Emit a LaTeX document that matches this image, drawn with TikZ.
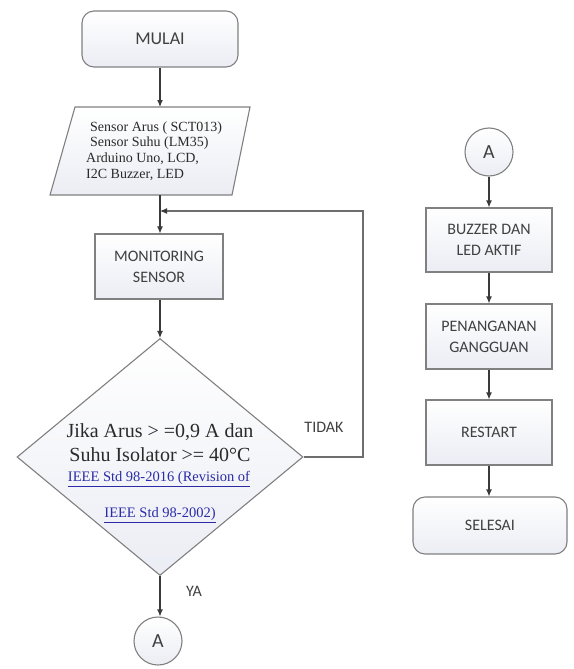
\documentclass[tikz,border=0pt]{standalone}
\usepackage{fontspec}
\setmainfont{Liberation Serif}
\setsansfont{Carlito}
\usetikzlibrary{shapes.geometric,arrows.meta,calc}
\definecolor{edge}{HTML}{808080}
\definecolor{arrowc}{HTML}{3A3A3A}
\definecolor{fbc}{HTML}{6E6E6E}
\definecolor{boxtop}{HTML}{FFFFFF}
\definecolor{boxbot}{HTML}{EBEDF4}
\definecolor{txt}{HTML}{404040}
\definecolor{dtc}{HTML}{2A2A2A}
\definecolor{linkc}{HTML}{2B2BA8}
\tikzset{
  shp/.style={draw=edge, line width=1.1pt, top color=boxtop, bottom color=boxbot},
  term/.style={shp, rectangle, rounded corners=12pt, font=\sffamily\fontsize{16}{21}\selectfont, text=txt, align=center},
  proc/.style={shp, rectangle, font=\sffamily\fontsize{16}{21}\selectfont, text=txt, align=center},
  conn/.style={shp, circle, minimum size=48pt, inner sep=0pt, font=\sffamily\fontsize{20}{22}\selectfont, text=txt},
  decision/.style={shp, diamond, inner sep=0pt},
  arr/.style={draw=arrowc, line width=1.1pt, -{Latex[length=7pt,width=6pt]}},
  fbarr/.style={draw=fbc, line width=1.1pt, -{Latex[length=7pt,width=6pt,color=arrowc]}},
  lbl/.style={font=\sffamily\fontsize{16}{18}\selectfont, text=txt},
  dtxt/.style={font=\fontsize{20}{22}\selectfont, text=dtc},
  ltxt/.style={font=\fontsize{14.5}{16}\selectfont, text=linkc},
}
\begin{document}
\begin{tikzpicture}[x=1pt,y=-1pt]
\useasboundingbox (0,0) rectangle (573,669);
% left column
\node[term, minimum width=156pt, minimum height=56pt, font=\sffamily\fontsize{18}{21}\selectfont] (mulai) at (160,39) {MULAI};
\draw[shp] (50,195) -- (75,107) -- (250,107) -- (232,195) -- cycle;
\node[inner sep=0pt, minimum width=200pt, minimum height=88pt] (input) at (150,151) {};
\node[anchor=west, align=left, inner sep=0pt, font=\fontsize{14}{15.7}\selectfont, text=dtc] (inputtext) at (86,151)
  {\hspace{4pt}Sensor Arus ( SCT013)\\\hspace{4pt}Sensor Suhu (LM35)\\Arduino Uno, LCD,\\I2C Buzzer, LED};
\node[proc, minimum width=128pt, minimum height=65pt] (mon) at (159,266.5) {MONITORING\\SENSOR};
\node[decision, minimum width=286pt, minimum height=237pt] (dec) at (160,457) {};
\node[dtxt] (d1) at (160,432) {Jika Arus > =0,9 A dan};
\node[dtxt] (d2) at (160,455) {Suhu Isolator >= 40°C};
\node[ltxt] (d3) at (159,479) {\underline{IEEE Std 98-2016 (Revision of}};
\node[ltxt] (d4) at (160,515) {\underline{IEEE Std 98-2002)}};
\node[conn] (a1) at (158,641) {A};
\coordinate (fb) at (363,211);
\coordinate (join) at (160,211);
\node[lbl] (tidak) at (324,427) {TIDAK};
\node[lbl] (ya) at (194,591) {YA};
\draw[arr] (mulai.south -| 160,0) -- (160,107);
\draw[arr] (160,195) -- (mon.north -| 160,0);
\draw[arr] (mon.south -| 160,0) -- (dec.north);
\draw[fbarr] (dec.east) -| (fb) -- (join);
\draw[arr] (dec.south) -- (a1.north -| dec.south);
% right column
\node[conn] (a2) at (489,152) {A};
\node[proc, minimum width=126pt, minimum height=64pt] (buzz) at (489,240) {BUZZER DAN\\LED AKTIF};
\node[proc, minimum width=126pt, minimum height=65pt] (pen) at (489,336.5) {PENANGANAN\\GANGGUAN};
\node[proc, minimum width=126pt, minimum height=65pt] (rest) at (489,432.5) {RESTART};
\node[term, minimum width=154pt, minimum height=57pt] (sel) at (490,525.5) {SELESAI};
\draw[arr] (a2.south) -- (buzz.north);
\draw[arr] (buzz.south) -- (pen.north);
\draw[arr] (pen.south) -- (rest.north);
\draw[arr] (rest.south) -- (rest.south |- sel.north);
\end{tikzpicture}
\end{document}
